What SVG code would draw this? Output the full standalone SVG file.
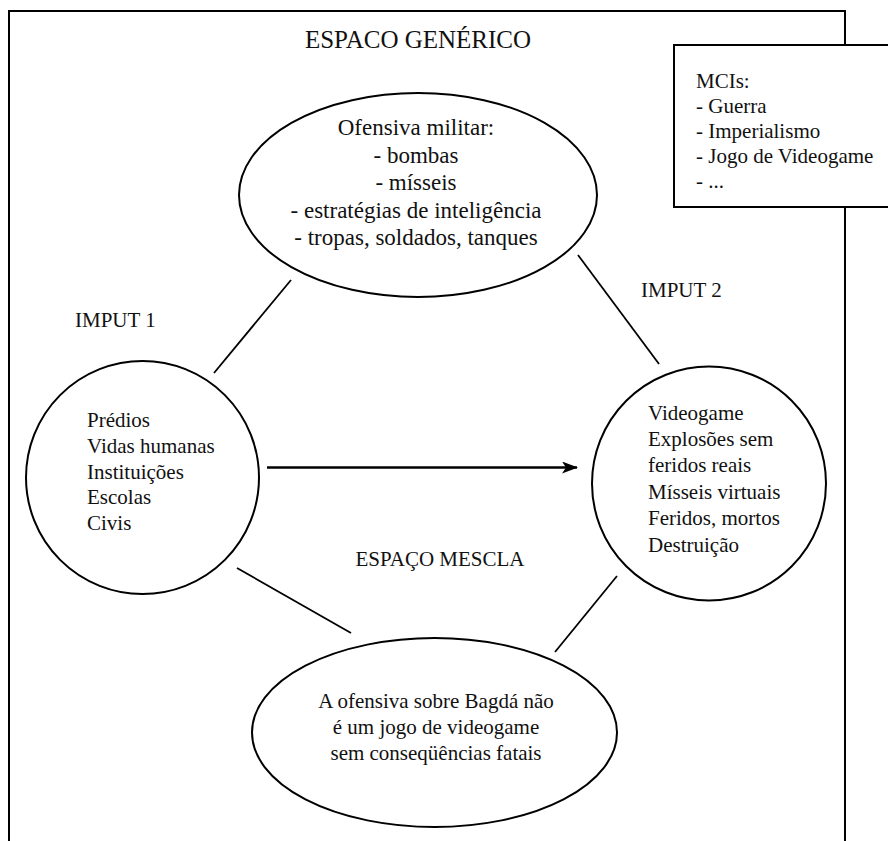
<svg xmlns="http://www.w3.org/2000/svg" width="888" height="841" viewBox="0 0 888 841" font-family="'Liberation Serif', 'Times New Roman', Times, serif">
<style>
.s{fill:none;stroke:#000;stroke-width:2}
.n{fill:#fff;stroke:#000;stroke-width:2}
text{font-family:'Liberation Serif', 'Times New Roman', Times, serif;fill:#111;font-size:21px}
.c{text-anchor:middle}
.big{font-size:23px}
.ttl{font-size:25px}
.ln{fill:none;stroke:#000;stroke-width:1.8}
</style>
<defs>
<marker id="ah" viewBox="0 0 16 12" refX="15" refY="6" markerWidth="16" markerHeight="12" markerUnits="userSpaceOnUse" orient="auto">
<path d="M0,0 L16,6 L0,12 L4,6 Z" fill="#000"/>
</marker>
</defs>
<rect width="888" height="841" fill="#fff"/>
<g id="frame">
<path class="s" d="M9,845 V11 H845 V845"/>
<text class="ttl c" x="418" y="48">ESPACO GENÉRICO</text>
</g>
<g id="mcis">
<rect class="n" x="674" y="45" width="230" height="162"/>
<text x="696" y="88">MCIs:</text>
<text x="696" y="113">- Guerra</text>
<text x="696" y="138">- Imperialismo</text>
<text x="696" y="163">- Jogo de Videogame</text>
<text x="696" y="188">- ...</text>
</g>
<g id="connectors">
<line class="ln" x1="291" y1="280" x2="214" y2="373"/>
<line class="ln" x1="578" y1="255" x2="659" y2="364"/>
<line class="ln" x1="237" y1="568" x2="351" y2="633"/>
<line class="ln" x1="617" y1="576" x2="555" y2="652"/>
<line x1="267" y1="467.5" x2="577" y2="467.5" stroke="#000" stroke-width="2.5" marker-end="url(#ah)"/>
</g>
<g id="generic">
<ellipse class="n" cx="418" cy="195" rx="179" ry="102"/>
<text class="big c" x="416" y="135">Ofensiva militar:</text>
<text class="big c" x="416" y="162.5">- bombas</text>
<text class="big c" x="416" y="190">- mísseis</text>
<text class="big c" x="416" y="217.5">- estratégias de inteligência</text>
<text class="big c" x="416" y="245">- tropas, soldados, tanques</text>
</g>
<g id="input1">
<text x="75" y="327">IMPUT 1</text>
<circle class="n" cx="142.5" cy="477.5" r="116.5"/>
<text x="87" y="427">Prédios</text>
<text x="87" y="453">Vidas humanas</text>
<text x="87" y="479">Instituições</text>
<text x="87" y="504">Escolas</text>
<text x="87" y="530">Civis</text>
</g>
<g id="input2">
<text x="641" y="297">IMPUT 2</text>
<circle class="n" cx="709" cy="483.5" r="117"/>
<text x="648" y="420">Videogame</text>
<text x="648" y="446">Explosões sem</text>
<text x="648" y="472">feridos reais</text>
<text x="648" y="499">Mísseis virtuais</text>
<text x="648" y="525">Feridos, mortos</text>
<text x="648" y="552">Destruição</text>
</g>
<g id="blend">
<text class="c" x="440" y="566">ESPAÇO MESCLA</text>
<ellipse class="n" cx="434.5" cy="732.5" rx="182.5" ry="94.5"/>
<text class="c" x="436" y="708">A ofensiva sobre Bagdá não</text>
<text class="c" x="436" y="734">é um jogo de videogame</text>
<text class="c" x="436" y="760">sem conseqüências fatais</text>
</g>
</svg>
